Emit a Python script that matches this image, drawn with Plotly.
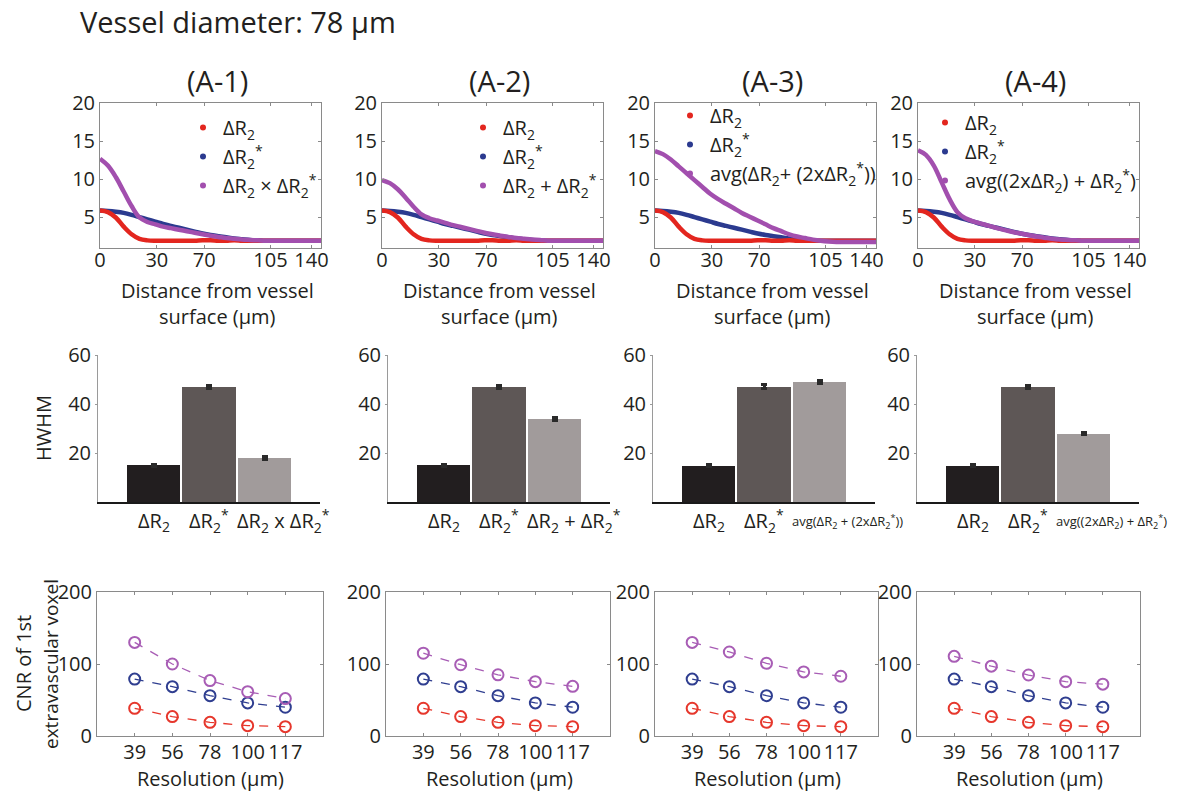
import plotly.graph_objects as go

W, H = 1186, 794
FONT = "Open Sans"
INK = "#231f20"
RED, BLUE, PURPLE = "#e3261f", "#2b3a8f", "#a24fae"
RED_C, BLUE_C, PURPLE_C = "#e6372c", "#2f3e90", "#a85db5"
BAR_COLORS = ["#221e1f", "#5e5756", "#a19b9b"]
FS = 20          # body text size
FS_TITLE = 29    # headline / panel titles

# ---- profile data: distance from vessel surface (um) ----
distance = [0, 5, 10, 15, 20, 25, 30, 35, 40, 45, 50, 55, 60, 65, 70,
            75, 80, 85, 90, 95, 100, 105, 110, 115, 120, 125, 130, 135, 140]
dR2 = [5.9, 5.7, 5.0, 3.8, 2.8, 2.2, 2.0, 1.95, 1.95, 1.95, 1.95, 1.95, 1.95, 2.0, 2.0,
       1.95, 1.95, 2.0, 1.95, 1.95, 1.95, 1.95, 1.95, 1.95, 1.95, 1.95, 1.95, 1.95, 1.95]
dR2s = [5.9, 5.85, 5.75, 5.6, 5.35, 5.05, 4.75, 4.45, 4.15, 3.9, 3.65, 3.4, 3.15, 2.9, 2.7,
        2.55, 2.4, 2.25, 2.15, 2.05, 2.0, 1.95, 1.95, 1.95, 1.95, 1.95, 1.95, 1.95, 1.95]
combo_A1 = [12.7, 11.8, 10.3, 8.4, 6.5, 5.0, 4.4, 4.1, 3.8, 3.6, 3.4, 3.2, 3.0, 2.8, 2.6,
            2.45, 2.3, 2.2, 2.1, 2.05, 2.0, 1.95, 1.95, 1.95, 1.95, 1.95, 1.95, 1.95, 1.95]
combo_A2 = [9.9, 9.5, 8.7, 7.6, 6.4, 5.4, 4.9, 4.6, 4.3, 4.0, 3.75, 3.5, 3.25, 3.0, 2.8,
            2.6, 2.45, 2.3, 2.2, 2.1, 2.05, 1.95, 1.95, 1.95, 1.95, 1.95, 1.95, 1.95, 1.95]
combo_A3 = [13.7, 13.3, 12.6, 11.7, 10.8, 9.9, 9.0, 8.1, 7.4, 6.8, 6.2, 5.6, 5.1, 4.6, 4.1,
            3.6, 3.2, 2.8, 2.5, 2.3, 2.1, 1.95, 1.85, 1.8, 1.8, 1.8, 1.8, 1.8, 1.8]
combo_A4 = [13.8, 13.2, 11.8, 9.6, 7.4, 5.7, 4.9, 4.5, 4.2, 3.9, 3.6, 3.35, 3.1, 2.9, 2.7,
            2.5, 2.35, 2.2, 2.1, 2.05, 2.0, 1.95, 1.95, 1.95, 1.95, 1.95, 1.95, 1.95, 1.95]
combos = [combo_A1, combo_A2, combo_A3, combo_A4]
dist_tickvals = [0, 36, 66, 108, 134]
dist_ticktext = ["0", "30", "70", "105", "140"]

panel_titles = ["(A-1)", "(A-2)", "(A-3)", "(A-4)"]
combo_names = [
    "ΔR<sub>2</sub> × ΔR<sub>2</sub><sup>*</sup>",
    "ΔR<sub>2</sub> + ΔR<sub>2</sub><sup>*</sup>",
    "avg(ΔR<sub>2</sub>+ (2xΔR<sub>2</sub><sup>*</sup>))",
    "avg((2xΔR<sub>2</sub>) + ΔR<sub>2</sub><sup>*</sup>)",
]
combo_bar_labels = [
    "ΔR<sub>2</sub> x ΔR<sub>2</sub><sup>*</sup>",
    "ΔR<sub>2</sub> + ΔR<sub>2</sub><sup>*</sup>",
    "avg(ΔR<sub>2</sub> + (2xΔR<sub>2</sub><sup>*</sup>))",
    "avg((2xΔR<sub>2</sub>) + ΔR<sub>2</sub><sup>*</sup>)",
]
combo_bar_label_size = [FS, FS, 13, 13]

# ---- HWHM bars ----
hwhm_dR2 = [15.0, 15.0, 14.8, 14.8]
hwhm_dR2s = [46.8, 46.8, 47.1, 47.0]
hwhm_combo = [17.8, 33.8, 49.1, 27.9]
hwhm_err_dR2 = [0.5, 0.5, 0.5, 0.5]
hwhm_err_dR2s = [0.6, 0.6, 0.7, 0.6]
hwhm_err_combo = [0.6, 0.5, 0.6, 0.5]

# ---- CNR of 1st extravascular voxel ----
resolution = ["39", "56", "78", "100", "117"]
cnr_dR2 = [38.5, 27, 19, 14.4, 13]
cnr_dR2s = [79, 68.5, 56, 46, 40]
cnr_combo = [
    [130, 100, 77, 61.5, 52],
    [115, 99, 85, 75.5, 69],
    [130, 116.7, 101, 89, 83],
    [110.6, 97, 84.7, 75.5, 72],
]

# ---- layout geometry (pixels) ----
row_cols = [
    [(100, 321), (382, 603), (655, 876), (918, 1139)],
    [(98, 320), (388, 610), (653, 875), (917, 1139)],
    [(97, 323), (386, 610), (655, 878), (917, 1140)],
]
row_y = [(103, 248), (355, 502), (592, 736)]
legend_pos = [(183, 108), (463, 108), (670, 96), (925, 103)]


def px_x(v):
    return v / W


def px_y(v):
    return 1 - v / H


def axid(n):
    return "" if n == 1 else str(n)


fig = go.Figure()
layout = dict(
    template=go.layout.Template(),
    width=W, height=H, margin=dict(l=0, r=0, t=0, b=0, autoexpand=False),
    paper_bgcolor="white", plot_bgcolor="white",
    font=dict(family=FONT, size=FS, color=INK),
    showlegend=True,
    bargap=0.0,
)
annotations = []
common_axis = dict(showgrid=False, zeroline=False, automargin=False,
                   tickfont=dict(family=FONT, size=FS, color=INK))


def text(t, x, y, size=FS, xanchor="center", xref="paper", angle=0):
    annotations.append(dict(text=t, x=x, y=y, xref=xref, yref="paper", showarrow=False, textangle=angle,
                            font=dict(family=FONT, size=size, color=INK), xanchor=xanchor, yanchor="middle"))


for c in range(4):
    # --- top row: profiles ---
    n = c + 1
    xa, ya = "x" + axid(n), "y" + axid(n)
    leg = "legend" + axid(n)
    for ys, col in [(dR2s, BLUE), (dR2, RED), (combos[c], PURPLE)]:
        fig.add_trace(go.Scatter(x=distance, y=ys, mode="lines", line=dict(color=col, width=4.5, shape="spline"),
                                 xaxis=xa, yaxis=ya, showlegend=False, hoverinfo="skip"))
    for i, (name, col) in enumerate([("ΔR<sub>2</sub>", RED), ("ΔR<sub>2</sub><sup>*</sup>", BLUE),
                                     (combo_names[c], PURPLE)]):
        fig.add_trace(go.Scatter(x=[None], y=[None], mode="markers", name=name,
                                 marker=dict(color=col, size=6), xaxis=xa, yaxis=ya,
                                 legend=leg, legendgroup=f"g{c}{i}", showlegend=True))
    lx, ly = legend_pos[c]
    layout[leg] = dict(
        x=px_x(lx), y=px_y(ly), xanchor="left", yanchor="top", bgcolor="rgba(0,0,0,0)",
        font=dict(family=FONT, size=FS, color=INK), itemwidth=30, tracegroupgap=5,
        traceorder="normal",
    )
    x0, x1 = row_cols[0][c]
    y0, y1 = row_y[0]
    layout["xaxis" + axid(n)] = dict(
        domain=[px_x(x0), px_x(x1)], range=[0, 140], anchor=ya,
        tickvals=dist_tickvals, ticktext=dist_ticktext, ticks="inside", ticklen=3,
        tickcolor="#8a8a8a", showline=True, linecolor="#8a8a8a", linewidth=1, mirror="ticks",
        ticklabelstandoff=-6, **common_axis,
    )
    layout["yaxis" + axid(n)] = dict(
        domain=[px_y(y1), px_y(y0)], range=[1, 20], anchor=xa,
        tickvals=[5, 10, 15, 20], ticks="inside", ticklen=3, tickcolor="#8a8a8a",
        showline=True, linecolor="#8a8a8a", linewidth=1, mirror="ticks",
        **common_axis,
    )
    cx = (x0 + x1) / 2 + 7
    text(panel_titles[c], px_x(cx), px_y(80), size=FS_TITLE)
    text("Distance from vessel", px_x(cx), px_y(290))
    text("surface (μm)", px_x(cx), px_y(317))

    # --- middle row: HWHM bars ---
    n = c + 5
    xa, ya = "x" + axid(n), "y" + axid(n)
    fig.add_trace(go.Bar(
        x=[1, 2, 3], y=[hwhm_dR2[c], hwhm_dR2s[c], hwhm_combo[c]], width=0.96,
        marker=dict(color=BAR_COLORS, line=dict(width=0)),
        error_y=dict(type="data", array=[hwhm_err_dR2[c], hwhm_err_dR2s[c], hwhm_err_combo[c]],
                     color="#2a2a2a", thickness=3, width=3),
        xaxis=xa, yaxis=ya, showlegend=False, hoverinfo="skip"))
    x0, x1 = row_cols[1][c]
    y0, y1 = row_y[1]
    layout["xaxis" + axid(n)] = dict(
        domain=[px_x(x0), px_x(x1)], range=[0, 4], anchor=ya, showticklabels=False, ticks="",
        showline=True, linecolor="#1a1a1a", linewidth=2, **common_axis,
    )
    layout["yaxis" + axid(n)] = dict(
        domain=[px_y(y1), px_y(y0)], range=[0, 60], anchor=xa, tickvals=[20, 40, 60],
        ticks="outside", ticklen=2, tickcolor="#9a9a9a",
        showline=True, linecolor="#9a9a9a", linewidth=1, **common_axis,
    )
    for xv, txt, size, anchor in [(1, "ΔR<sub>2</sub>", FS, "center"),
                                  (2, "ΔR<sub>2</sub><sup>*</sup>", FS, "center"),
                                  (2.47, combo_bar_labels[c], combo_bar_label_size[c], "left")]:
        text(txt, xv, px_y(521), size=size, xanchor=anchor, xref=xa)

    # --- bottom row: CNR ---
    n = c + 9
    xa, ya = "x" + axid(n), "y" + axid(n)
    for ys, col in [(cnr_dR2, RED_C), (cnr_dR2s, BLUE_C), (cnr_combo[c], PURPLE_C)]:
        fig.add_trace(go.Scatter(
            x=[1, 2, 3, 4, 5], y=ys, mode="lines+markers",
            line=dict(color=col, width=1.3, dash="dash"),
            marker=dict(symbol="circle-open", size=11, color=col, line=dict(width=2, color=col)),
            xaxis=xa, yaxis=ya, showlegend=False, hoverinfo="skip"))
    x0, x1 = row_cols[2][c]
    y0, y1 = row_y[2]
    layout["xaxis" + axid(n)] = dict(
        domain=[px_x(x0), px_x(x1)], range=[0, 6], anchor=ya,
        tickvals=[1, 2, 3, 4, 5], ticktext=resolution, ticks="inside", ticklen=3, tickcolor="#8a8a8a",
        showline=True, linecolor="#8a8a8a", linewidth=1, mirror="ticks",
        ticklabelstandoff=-2, **common_axis,
    )
    layout["yaxis" + axid(n)] = dict(
        domain=[px_y(y1), px_y(y0)], range=[0, 200], anchor=xa, tickvals=[0, 100, 200],
        ticks="inside", ticklen=3, tickcolor="#8a8a8a",
        showline=True, linecolor="#8a8a8a", linewidth=1, mirror="ticks", **common_axis,
    )
    text("Resolution (μm)", px_x((x0 + x1) / 2 + 1), px_y(778))

text("Vessel diameter: 78 μm", px_x(78), px_y(21), size=FS_TITLE, xanchor="left")
text("HWHM", px_x(43), px_y(428), angle=-90)
text("CNR of 1st", px_x(23), px_y(664), angle=-90)
text("extravascular voxel", px_x(51), px_y(664), size=19, angle=-90)

layout["annotations"] = annotations
fig.update_layout(**layout)
fig.write_html("out.html")
